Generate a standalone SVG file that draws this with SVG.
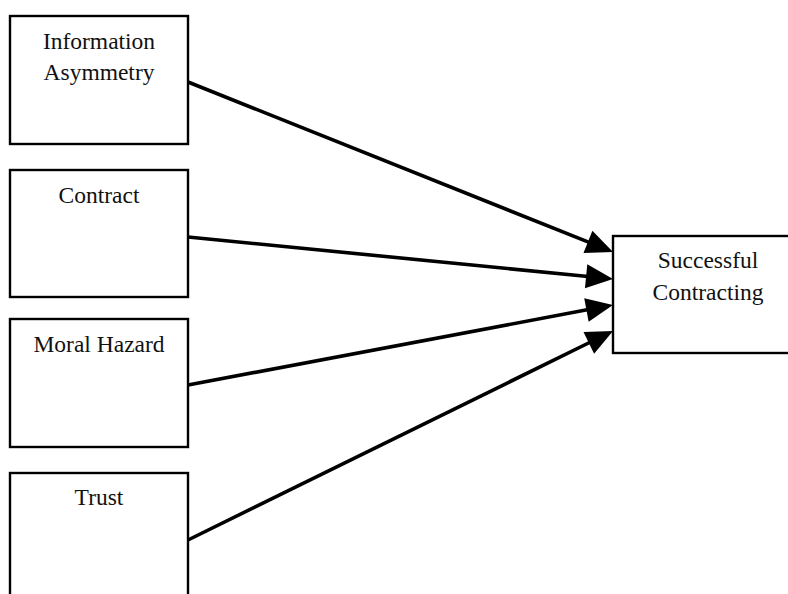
<svg xmlns="http://www.w3.org/2000/svg" width="788" height="594" viewBox="0 0 788 594">
<style>
.box{fill:#fff;stroke:#000;stroke-width:2.4}
.lbl{font-family:"Liberation Serif","Times New Roman",serif;font-size:23.5px;fill:#111;text-anchor:middle}
.edge{stroke:#000;stroke-width:3.6;fill:none}
</style>
<defs>
<marker id="ah" markerUnits="userSpaceOnUse" orient="auto" refX="2" refY="0" markerWidth="32" markerHeight="28" overflow="visible">
<path d="M0,-12 L27,0 L0,12 Z" fill="#000"/>
</marker>
</defs>
<rect width="788" height="594" fill="#fff"/>
<g id="n-info">
<rect class="box" x="10" y="16" width="178" height="128"/>
<text class="lbl" x="99" y="49">Information</text>
<text class="lbl" x="99" y="80">Asymmetry</text>
</g>
<g id="n-contract">
<rect class="box" x="10" y="170" width="178" height="127"/>
<text class="lbl" x="99" y="203">Contract</text>
</g>
<g id="n-moral">
<rect class="box" x="10" y="319" width="178" height="128"/>
<text class="lbl" x="99" y="352">Moral Hazard</text>
</g>
<g id="n-trust">
<rect class="box" x="10" y="473" width="178" height="130"/>
<text class="lbl" x="99" y="505">Trust</text>
</g>
<g id="n-success">
<rect class="box" x="613" y="236" width="200" height="117"/>
<text class="lbl" x="708" y="268">Successful</text>
<text class="lbl" x="708" y="300">Contracting</text>
</g>
<g id="connectors">
<line class="edge" x1="188" y1="82" x2="589.8" y2="242.7" marker-end="url(#ah)"/>
<line class="edge" x1="188" y1="237" x2="588.1" y2="276.5" marker-end="url(#ah)"/>
<line class="edge" x1="188" y1="385" x2="588.4" y2="309.6" marker-end="url(#ah)"/>
<line class="edge" x1="188" y1="540" x2="590.6" y2="342.0" marker-end="url(#ah)"/>
</g>
</svg>
